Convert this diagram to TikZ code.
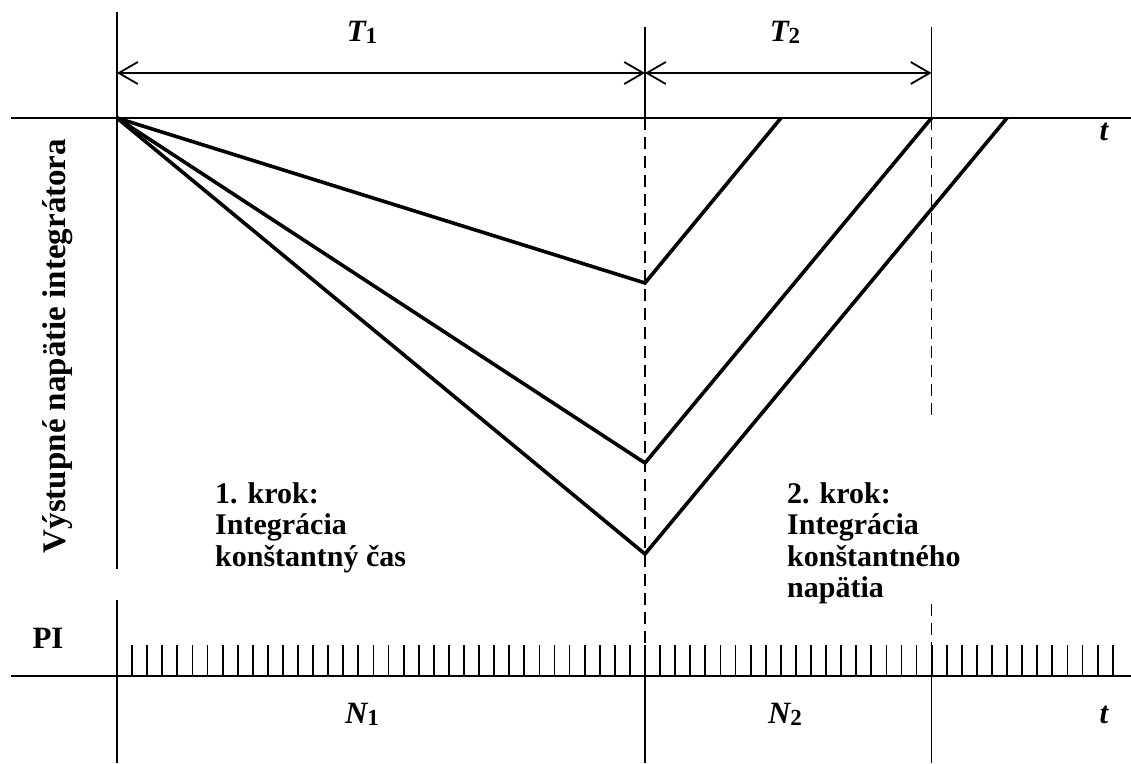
\documentclass[tikz,border=0pt]{standalone}
\usepackage{fontspec}
\setmainfont{Liberation Serif}
\usetikzlibrary{arrows.meta}
\begin{document}
\begin{tikzpicture}[x=1pt,y=-1pt,
  thinline/.style={line width=1.8pt},
  graphline/.style={line width=3.6pt, line join=miter, line cap=butt},
  dashline/.style={line width=1.8pt, dash pattern=on 12pt off 7pt},
  dimarrow/.style={line width=1.8pt, {Straight Barb[length=19pt,width=22pt,line width=1.8pt]}-{Straight Barb[length=19pt,width=22pt,line width=1.8pt]}},
  lbl/.style={font=\fontsize{31}{36}\selectfont\bfseries, inner sep=0pt},
  block/.style={font=\fontsize{30}{31.5}\selectfont\bfseries, inner sep=0pt, align=left, anchor=north west},
  pulse/.style={line width=1.8pt}]
\useasboundingbox (0,0) rectangle (1131,763);
% key coordinates
\coordinate (L0) at (117,12);
\coordinate (L1) at (117,569);
\coordinate (L2) at (117,600);
\coordinate (L3) at (117,763);
\coordinate (M0) at (645,27);
\coordinate (Ma) at (645,118);
\coordinate (Mb) at (645,676);
\coordinate (M3) at (645,763);
\coordinate (R0) at (931.5,27);
\coordinate (Ra) at (931.5,118);
\coordinate (Rb) at (931.5,418);
\coordinate (Rc) at (931.5,604);
\coordinate (Rd) at (931.5,676);
\coordinate (R3) at (931.5,763);
\coordinate (AxA) at (11,118);
\coordinate (AxB) at (1131,118);
\coordinate (AxC) at (11,676);
\coordinate (AxD) at (1131,676);
\coordinate (O) at (117,118);
\coordinate (V1) at (645,283);
\coordinate (V2) at (645,463);
\coordinate (V3) at (645,554);
\coordinate (E1) at (781,118);
\coordinate (E2) at (931.5,118);
\coordinate (E3) at (1007,118);
\coordinate (D1) at (117,73);
\coordinate (D2) at (645,73);
\coordinate (D3) at (931.5,73);
% axes
\draw[thinline] (L0) -- (L1);
\draw[thinline] (L2) -- (L3);
\draw[thinline] (M0) -- (Ma);
\draw[dashline] (Ma) -- (Mb);
\draw[thinline] (Mb) -- (M3);
\draw[thinline] (R0) -- (Ra);
\draw[dashline] (Ra) -- (Rb);
\draw[dashline] (Rc) -- (Rd);
\draw[thinline] (Rd) -- (R3);
\draw[thinline] (AxA) -- (AxB);
\draw[thinline] (AxC) -- (AxD);
% dimension arrows
\draw[dimarrow] (D1) -- (D2);
\draw[dimarrow] (D2) -- (D3);
% integrator curves
\draw[graphline] (O) -- (V1) -- (E1);
\draw[graphline] (O) -- (V2) -- (E2);
\draw[graphline] (O) -- (V3) -- (E3);
% pulses
\foreach \k in {1,...,66}{
  \draw[pulse] ({117+15.086*\k},676) -- ({117+15.086*\k},645);
}
% labels
\node[lbl, anchor=base] (T1) at (362,41) {\itshape T\raisebox{-0.2ex}{\upshape\fontsize{23}{23}\selectfont 1}};
\node[lbl, anchor=base] (T2) at (785,41) {\itshape T\raisebox{-0.2ex}{\upshape\fontsize{23}{23}\selectfont 2}};
\node[lbl, anchor=base] (N1) at (362,723) {\itshape N\raisebox{-0.2ex}{\upshape\fontsize{23}{23}\selectfont 1}};
\node[lbl, anchor=base] (N2) at (785,723) {\itshape N\raisebox{-0.2ex}{\upshape\fontsize{23}{23}\selectfont 2}};
\node[lbl, anchor=base] (t1) at (1104,140) {\itshape t};
\node[lbl, anchor=base] (t2) at (1104,723) {\itshape t};
\node[lbl, anchor=base] (PI) at (48,648) {PI};
\node[font=\fontsize{33}{36}\selectfont\bfseries, inner sep=0pt, rotate=90] (ylab) at (58,346) {Výstupné napätie integrátora};
\node[block] (s1) at (215,482) {1. krok:\\Integrácia\\konštantný čas};
\node[block] (s2) at (787,482) {2. krok:\\Integrácia\\konštantného\\napätia};
\end{tikzpicture}
\end{document}
